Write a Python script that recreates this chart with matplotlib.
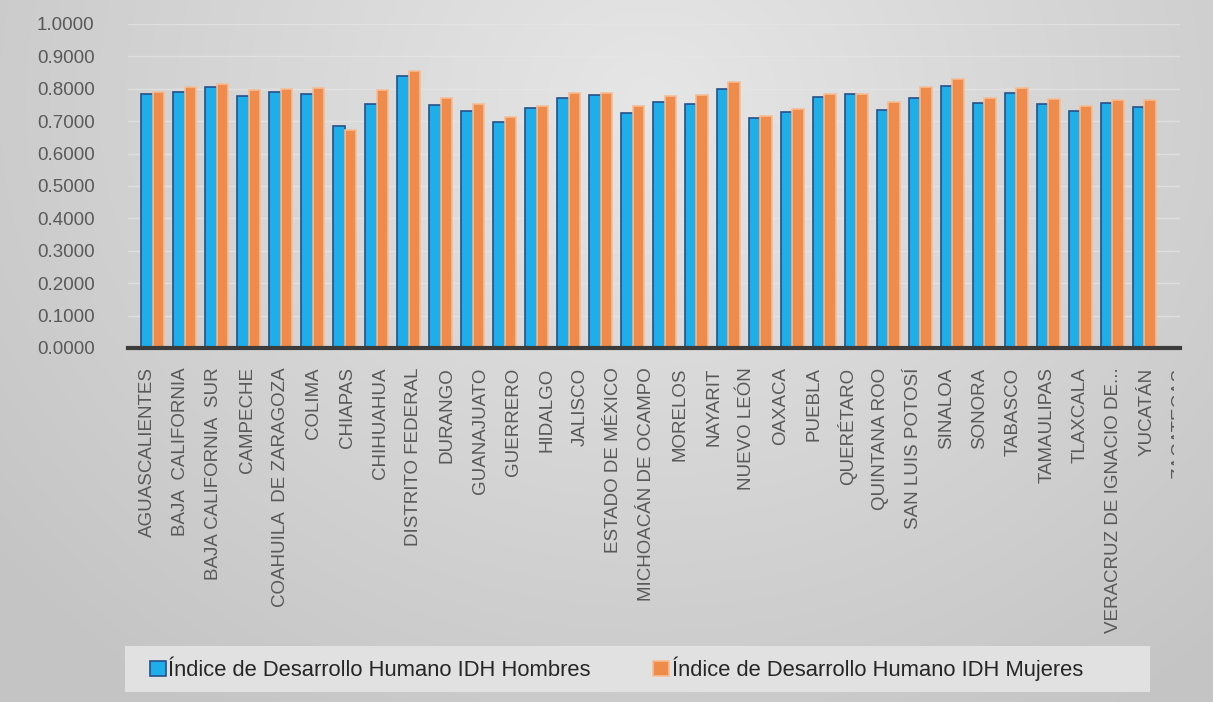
import numpy as np
import matplotlib
matplotlib.use('Agg')
import matplotlib.pyplot as plt
from matplotlib.colors import LinearSegmentedColormap
from matplotlib.patches import Rectangle
from matplotlib.transforms import Bbox, TransformedBbox

plt.rcParams['font.family'] = ['Liberation Sans', 'DejaVu Sans']

estados = ['AGUASCALIENTES', 'BAJA  CALIFORNIA', 'BAJA CALIFORNIA  SUR', 'CAMPECHE',
           'COAHUILA  DE ZARAGOZA', 'COLIMA', 'CHIAPAS', 'CHIHUAHUA', 'DISTRITO FEDERAL',
           'DURANGO', 'GUANAJUATO', 'GUERRERO', 'HIDALGO', 'JALISCO', 'ESTADO DE MÉXICO',
           'MICHOACÁN DE OCAMPO', 'MORELOS', 'NAYARIT', 'NUEVO LEÓN', 'OAXACA', 'PUEBLA',
           'QUERÉTARO', 'QUINTANA ROO', 'SAN LUIS POTOSÍ', 'SINALOA', 'SONORA', 'TABASCO',
           'TAMAULIPAS', 'TLAXCALA', 'VERACRUZ DE IGNACIO DE...', 'YUCATÁN', 'ZACATECAS']
idh_hombres = [0.783, 0.789, 0.806, 0.778, 0.791, 0.784, 0.684, 0.754, 0.839, 0.751, 0.732,
               0.697, 0.742, 0.773, 0.780, 0.726, 0.760, 0.752, 0.798, 0.711, 0.729, 0.776,
               0.783, 0.735, 0.773, 0.810, 0.756, 0.787, 0.752, 0.732, 0.757, 0.743]
idh_mujeres = [0.789, 0.807, 0.816, 0.795, 0.798, 0.801, 0.674, 0.796, 0.855, 0.773, 0.752,
               0.712, 0.747, 0.788, 0.786, 0.748, 0.778, 0.781, 0.822, 0.716, 0.738, 0.783,
               0.785, 0.760, 0.805, 0.829, 0.773, 0.803, 0.767, 0.747, 0.764, 0.766]
series = ['Índice de Desarrollo Humano IDH Hombres', 'Índice de Desarrollo Humano IDH Mujeres']
yticks = np.arange(0, 1.01, 0.1)

W, H = 1213, 702
fig = plt.figure(figsize=(W / 100, H / 100), dpi=100)

# grey gradient background
bg = fig.add_axes([0, 0, 1, 1], zorder=-10)
yy, xx = np.mgrid[0:H, 0:W]
d = np.sqrt(((xx - 650) / 850.0) ** 2 + ((yy - 100) / 750.0) ** 2)
grey = LinearSegmentedColormap.from_list('g', ['#e6e6e6', '#c4c4c4'])
bg.imshow(d, cmap=grey, vmin=0, vmax=1, aspect='auto')
bg.axis('off')

ax = fig.add_axes([128 / W, 1 - 348 / H, (1180 - 128) / W, (348 - 24) / H])
ax.set_facecolor('none')

x = np.arange(len(estados))
w = 0.36
blue, blue_edge = '#1eaeea', '#26508c'
orange, orange_edge = '#ef8c4b', '#f6bd95'
ax.bar(x - w / 2, idh_hombres, w, color=blue, edgecolor=blue_edge, linewidth=1.2, zorder=3)
ax.bar(x + w / 2, idh_mujeres, w, color=orange, edgecolor=orange_edge, linewidth=1.2, zorder=3)

ax.set_xlim(-0.78, 31.85)
ax.set_ylim(0, 1)
ax.set_yticks(yticks)
ax.set_yticklabels([f'{v:.4f}' for v in yticks])
ax.tick_params(axis='y', length=0, pad=24, labelsize=13.5, labelcolor='#595959')

# category labels sit on a slightly wider spacing than the bars (3D look)
ax.set_xticks(-0.18 + 1.042 * x)
ax.set_xticklabels(estados, rotation=90, va='top')
ax.tick_params(axis='x', length=0, pad=14, labelsize=13.5, labelcolor='#595959')

for s in ['top', 'right', 'left']:
    ax.spines[s].set_visible(False)
ax.spines['bottom'].set_linewidth(3)
ax.spines['bottom'].set_color('#3c3c3c')
ax.spines['bottom'].set_zorder(4)
ax.yaxis.grid(True, color='#e6e6e6', linewidth=1.0, alpha=0.7, zorder=0)
ax.set_axisbelow(True)

# last label is cut off at the right edge of the chart
clip = TransformedBbox(Bbox([[0, 0], [1174 / W, 1]]), fig.transFigure)
for lab in ax.get_xticklabels():
    lab.set_clip_box(clip)
    lab.set_clip_on(True)

# legend box
fig.add_artist(Rectangle((125 / W, 1 - 692 / H), (1150 - 125) / W, 46 / H,
                         transform=fig.transFigure, facecolor='#e1e1e1',
                         edgecolor='none', zorder=-5))
handles = [Rectangle((0, 0), 1, 1, facecolor=blue, edgecolor=blue_edge, linewidth=1.2),
           Rectangle((0, 0), 1, 1, facecolor=orange, edgecolor=orange_edge, linewidth=1.2)]
fig.legend(handles, series, loc='center left', bbox_to_anchor=(150 / W, 1 - 669 / H),
           ncol=2, frameon=False, fontsize=15.8, handlelength=0.72, handleheight=0.72,
           handletextpad=0.12, columnspacing=2.85, borderaxespad=0, borderpad=0,
           labelcolor='#262626')

fig.savefig('out.png', dpi=100)
